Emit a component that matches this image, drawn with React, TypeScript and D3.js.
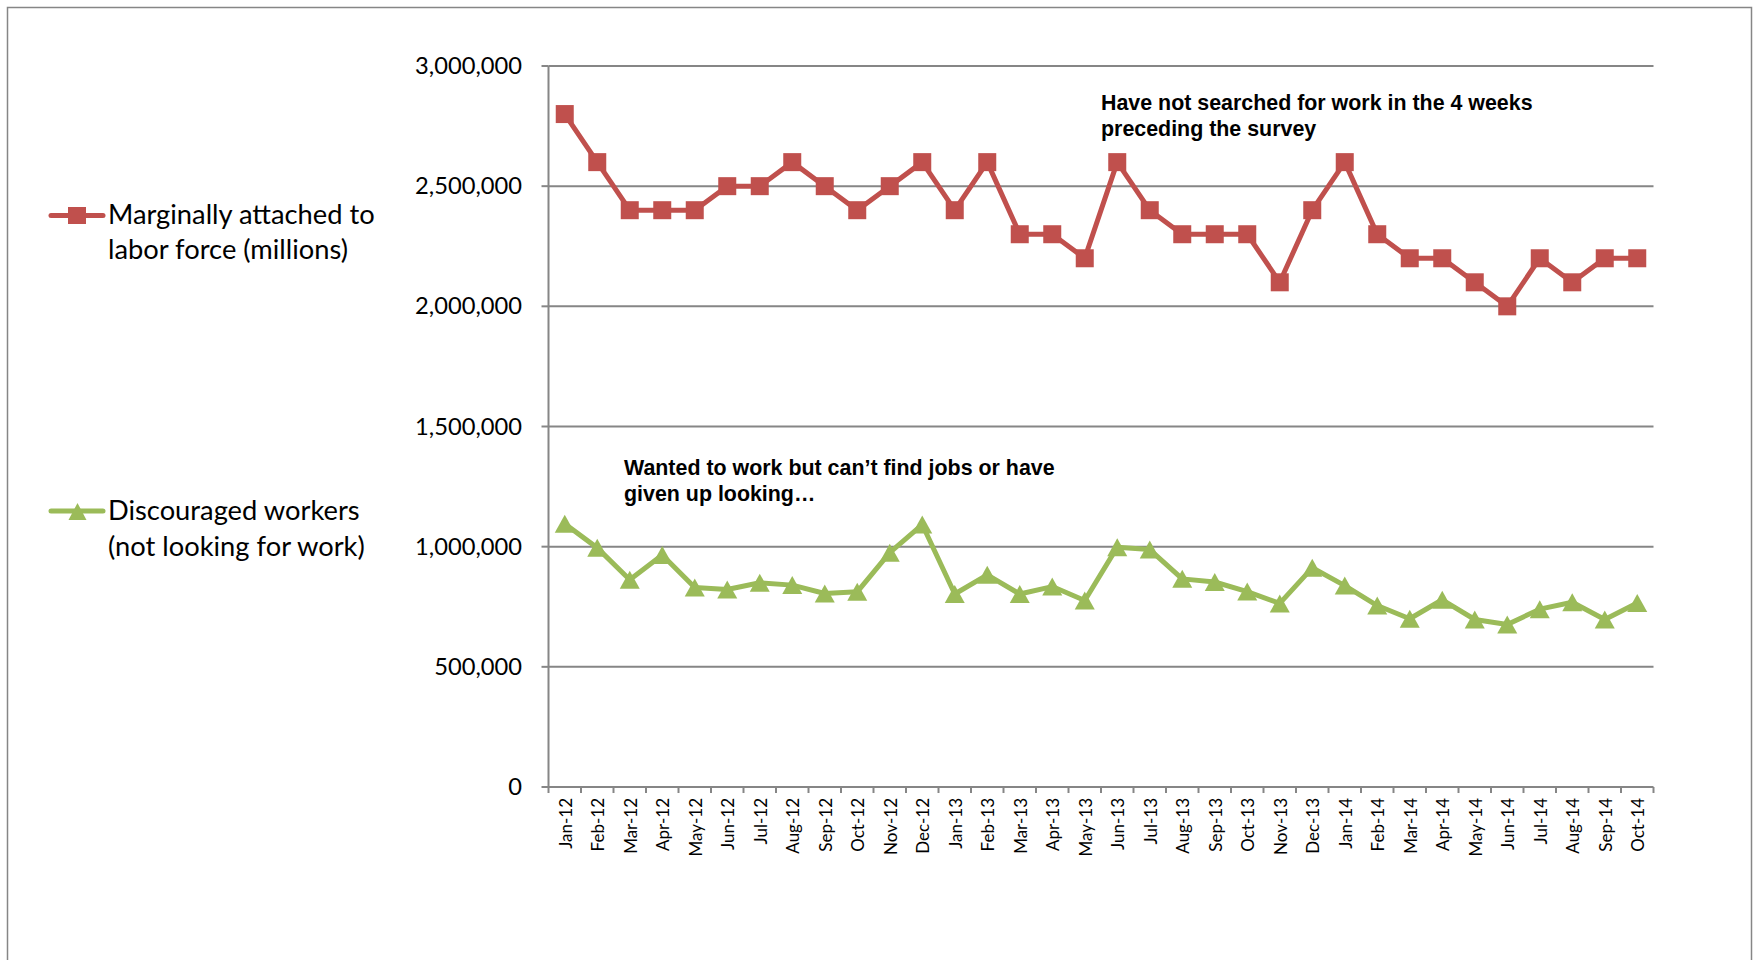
import React from "react";
import * as d3 from "d3";

const categories = [
  "Jan-12", "Feb-12", "Mar-12", "Apr-12", "May-12", "Jun-12", "Jul-12", "Aug-12", "Sep-12", "Oct-12", "Nov-12", "Dec-12",
  "Jan-13", "Feb-13", "Mar-13", "Apr-13", "May-13", "Jun-13", "Jul-13", "Aug-13", "Sep-13", "Oct-13", "Nov-13", "Dec-13",
  "Jan-14", "Feb-14", "Mar-14", "Apr-14", "May-14", "Jun-14", "Jul-14", "Aug-14", "Sep-14", "Oct-14",
];

const marginallyAttached = [
  2800000, 2600000, 2400000, 2400000, 2400000, 2500000, 2500000, 2600000, 2500000, 2400000, 2500000, 2600000,
  2400000, 2600000, 2300000, 2300000, 2200000, 2600000, 2400000, 2300000, 2300000, 2300000, 2100000, 2400000,
  2600000, 2300000, 2200000, 2200000, 2100000, 2000000, 2200000, 2100000, 2200000, 2200000,
];

const discouraged = [
  1095000, 995000, 862000, 965000, 830000, 822000, 850000, 840000, 805000, 812000, 975000, 1092000,
  803000, 883000, 803000, 834000, 776000, 998000, 988000, 866000, 853000, 813000, 764000, 912000,
  838000, 755000, 700000, 779000, 697000, 676000, 740000, 769000, 697000, 766000,
];

const yTicks = [0, 500000, 1000000, 1500000, 2000000, 2500000, 3000000];

const seriesNames = [
  ["Marginally attached to", "labor force (millions)"],
  ["Discouraged workers", "(not looking for work)"],
];

const annotations = [
  ["Have not searched for work in the 4 weeks", "preceding the survey"],
  ["Wanted to work but can\u2019t find jobs or have", "given up looking\u2026"],
];

const RED = "#C0504D";
const GREEN = "#9BBB59";
const GRID = "#868686";
const SANS = "Lato, 'Noto Sans', sans-serif";
const BOLD = "'Liberation Sans', Arial, sans-serif";

export default function App() {
  const left = 548.5;
  const right = 1653.5;
  const top = 66;
  const bottom = 787;

  const x = d3.scaleBand<string>().domain(categories).range([left, right]).padding(0);
  const y = d3.scaleLinear().domain([0, 3000000]).range([bottom, top]);
  const cx = (c: string) => (x(c) as number) + x.bandwidth() / 2;
  const fmt = d3.format(",");

  const line = d3
    .line<number>()
    .x((_, i) => cx(categories[i]))
    .y((d) => y(d));

  const tri = (px: number, py: number, w = 20, h = 18) =>
    `M${px},${py - h / 2}L${px + w / 2},${py + h / 2}L${px - w / 2},${py + h / 2}Z`;

  return (
    <svg
      width={1754}
      height={960}
      style={{ position: "absolute", left: 0, top: 0, display: "block", background: "#fff" }}
    >
      <rect x={0} y={0} width={1754} height={960} fill="#fff" />
      <rect x={7.5} y={7.5} width={1744} height={1100} fill="none" stroke={GRID} strokeWidth={1.5} />

      {/* gridlines */}
      {yTicks.filter((t) => t > 0).map((t) => (
        <line key={t} x1={left} x2={right} y1={y(t)} y2={y(t)} stroke={GRID} strokeWidth={2} />
      ))}
      {/* y axis */}
      <line x1={left} x2={left} y1={top} y2={bottom} stroke={GRID} strokeWidth={2} />
      {yTicks.map((t) => (
        <g key={"yt" + t}>
          <line x1={left - 7} x2={left} y1={y(t)} y2={y(t)} stroke={GRID} strokeWidth={2} />
          <text
            x={522}
            y={y(t) + 8}
            textAnchor="end"
            fontFamily={SANS}
            fontSize={23.7}
            fill="#000"
          >
            {fmt(t)}
          </text>
        </g>
      ))}
      {/* x axis */}
      <line x1={left} x2={right} y1={bottom} y2={bottom} stroke={GRID} strokeWidth={2} />
      {categories.map((c) => (
        <line
          key={"xt" + c}
          x1={(x(c) as number)}
          x2={(x(c) as number)}
          y1={bottom}
          y2={bottom + 6}
          stroke={GRID}
          strokeWidth={2}
        />
      ))}
      <line x1={right} x2={right} y1={bottom} y2={bottom + 6} stroke={GRID} strokeWidth={2} />
      {categories.map((c) => (
        <text
          key={"xl" + c}
          transform={`translate(${cx(c) + 7},${798}) rotate(-90)`}
          textAnchor="end"
          fontFamily={SANS}
          fontSize={17}
          fill="#000"
        >
          {c}
        </text>
      ))}

      {/* series lines */}
      <path d={line(marginallyAttached) || ""} fill="none" stroke={RED} strokeWidth={5} strokeLinejoin="round" />
      <path d={line(discouraged) || ""} fill="none" stroke={GREEN} strokeWidth={5} strokeLinejoin="round" />
      {marginallyAttached.map((v, i) => (
        <rect key={"m" + i} x={cx(categories[i]) - 9} y={y(v) - 9} width={18} height={18} fill={RED} />
      ))}
      {discouraged.map((v, i) => (
        <path key={"d" + i} d={tri(cx(categories[i]), y(v))} fill={GREEN} />
      ))}

      {/* annotations */}
      <text fontFamily={BOLD} fontWeight="bold" fontSize={21.4} fill="#000">
        <tspan x={1101} y={110}>{annotations[0][0]}</tspan>
        <tspan x={1101} y={136}>{annotations[0][1]}</tspan>
      </text>
      <text fontFamily={BOLD} fontWeight="bold" fontSize={21.4} fill="#000">
        <tspan x={624} y={475}>{annotations[1][0]}</tspan>
        <tspan x={624} y={501}>{annotations[1][1]}</tspan>
      </text>

      {/* legend */}
      <g>
        <line x1={51} x2={103} y1={215.5} y2={215.5} stroke={RED} strokeWidth={5} strokeLinecap="round" />
        <rect x={68} y={207} width={18} height={17} fill={RED} />
        <text fontFamily={SANS} fontSize={27.3} fill="#000">
          <tspan x={108} y={224}>{seriesNames[0][0]}</tspan>
          <tspan x={108} y={259}>{seriesNames[0][1]}</tspan>
        </text>
      </g>
      <g>
        <line x1={51} x2={103} y1={511} y2={511} stroke={GREEN} strokeWidth={5} strokeLinecap="round" />
        <path d={tri(77.5, 511.5, 18, 17)} fill={GREEN} />
        <text fontFamily={SANS} fontSize={27.3} fill="#000">
          <tspan x={108} y={520}>{seriesNames[1][0]}</tspan>
          <tspan x={108} y={556}>{seriesNames[1][1]}</tspan>
        </text>
      </g>
    </svg>
  );
}
